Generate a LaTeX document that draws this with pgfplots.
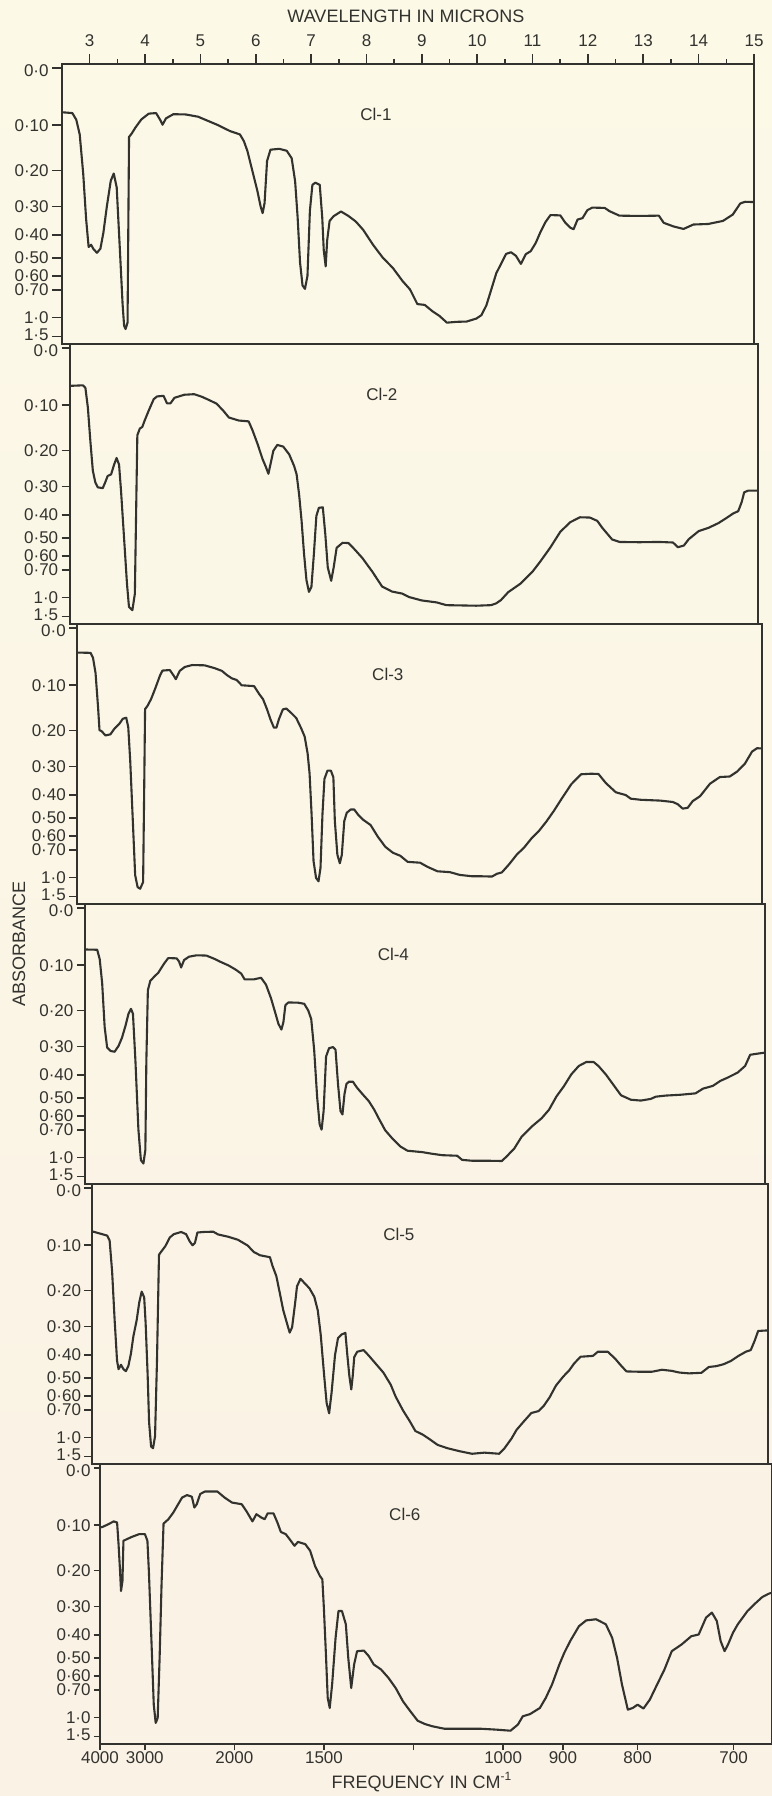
\documentclass[border=0pt]{standalone}
\usepackage{fontspec}
\setmainfont{Liberation Sans}
\usepackage{pgfplots}
\pgfplotsset{compat=1.18}

\definecolor{paper}{RGB}{252,249,231}
\definecolor{paperlow}{RGB}{250,242,229}
\definecolor{ink}{RGB}{50,50,46}

% x = wavelength (micron), y = transmittance; y ticks labelled in absorbance
\pgfplotsset{
  irpanel/.style={
    scale only axis, height=140pt,
    xmin=2.5, xmax=15, ymin=0.005, ymax=1.015,
    axis line style={ink, line width=1pt},
    tick style={ink, line width=0.8pt},
    tick align=outside, major tick length=4pt, minor tick length=2.5pt,
    ytick={0.0316,0.1,0.2,0.251,0.316,0.398,0.501,0.631,0.794,1},
    yticklabels={\raisebox{1.2pt}[6.1pt][0pt]{1·5},1·0,0·70,0·60,0·50,0·40,0·30,0·20,0·10,\raisebox{-1.2pt}[6.1pt][0pt]{0·0}},
    ytick pos=left,
    xtick=\empty,
    /pgf/number format/assume math mode=true,
    ticklabel style={font=\fontsize{8.5}{9}\selectfont, text=ink},
    yticklabel style={inner sep=1.5pt},
    clip=false,
    anchor=north west,
  },
  ir/.style={ink, line width=1.05pt, line join=round, mark=none},
}
\newcommand{\tag}[1]{\node[font=\fontsize{8.5}{9}\selectfont, text=ink] at (axis cs:8.17,0.832) {#1};}

\begin{document}
\begin{tikzpicture}
\path[use as bounding box] (0,0) rectangle (386pt,-898pt);
\shade[top color=paper, bottom color=paperlow] (0,0) rectangle (386pt,-898pt);

% Cl-1
\begin{axis}[irpanel, at={(31pt,-32pt)}, width=346pt,
  xtick={3,...,15}, minor xtick={3.5,4.5,...,14.5},
  xtick pos=right, xticklabel pos=right, major tick length=5pt]
\addplot[ir] coordinates {
(2.5,0.841) (2.687,0.838) (2.758,0.814) (2.820,0.761) (2.883,0.620) (2.936,0.455)
(2.981,0.355) (3.025,0.363) (3.070,0.347) (3.132,0.334) (3.194,0.349) (3.248,0.407)
(3.310,0.501) (3.381,0.594) (3.435,0.620) (3.488,0.570) (3.542,0.359) (3.595,0.147)
(3.622,0.071) (3.648,0.059) (3.684,0.082) (3.711,0.752) (3.755,0.763) (3.827,0.786)
(3.933,0.815) (4.067,0.836) (4.200,0.838) (4.272,0.814) (4.316,0.796) (4.379,0.819)
(4.512,0.834) (4.735,0.833) (4.957,0.825) (5.135,0.810) (5.313,0.795) (5.536,0.773)
(5.714,0.761) (5.785,0.737) (5.848,0.702) (5.937,0.631) (6.026,0.560) (6.088,0.501)
(6.124,0.477) (6.159,0.513) (6.204,0.665) (6.266,0.706) (6.426,0.709) (6.560,0.702)
(6.649,0.675) (6.711,0.592) (6.756,0.463) (6.800,0.299) (6.845,0.216) (6.889,0.204)
(6.934,0.251) (6.978,0.486) (7.023,0.579) (7.076,0.587) (7.156,0.579) (7.201,0.461)
(7.228,0.344) (7.263,0.285) (7.290,0.379) (7.334,0.449) (7.406,0.466) (7.539,0.483)
(7.673,0.467) (7.806,0.447) (7.940,0.417) (8.118,0.363) (8.296,0.316) (8.474,0.280)
(8.652,0.232) (8.786,0.202) (8.919,0.149) (9.053,0.146) (9.186,0.124) (9.320,0.106)
(9.453,0.082) (9.631,0.085) (9.809,0.086) (9.987,0.097) (10.076,0.109) (10.165,0.144)
(10.255,0.202) (10.344,0.260) (10.433,0.295) (10.522,0.330) (10.611,0.336) (10.700,0.323)
(10.789,0.294) (10.878,0.329) (10.967,0.340) (11.056,0.369) (11.145,0.410) (11.234,0.445)
(11.323,0.470) (11.501,0.469) (11.590,0.443) (11.679,0.425) (11.741,0.419) (11.813,0.454)
(11.902,0.459) (11.991,0.488) (12.080,0.497) (12.302,0.496) (12.391,0.484) (12.569,0.468)
(12.925,0.467) (13.281,0.468) (13.370,0.442) (13.548,0.429) (13.727,0.420) (13.905,0.436)
(14.172,0.438) (14.439,0.449) (14.617,0.472) (14.751,0.512) (14.840,0.518) (15.0,0.517)
};
\tag{Cl-1}
\end{axis}

% Cl-2
\begin{axis}[irpanel, at={(34.8pt,-172pt)}, width=344.2pt]
\addplot[ir] coordinates {
(2.5,0.864) (2.742,0.866) (2.787,0.857) (2.832,0.785) (2.877,0.665) (2.922,0.558)
(2.967,0.516) (3.012,0.498) (3.102,0.495) (3.147,0.516) (3.191,0.539) (3.254,0.545)
(3.308,0.580) (3.353,0.604) (3.398,0.580) (3.434,0.485) (3.488,0.318) (3.542,0.150)
(3.578,0.067) (3.640,0.055) (3.685,0.114) (3.712,0.460) (3.730,0.686) (3.775,0.710)
(3.820,0.716) (3.865,0.740) (3.937,0.775) (4.027,0.816) (4.089,0.826) (4.206,0.828)
(4.269,0.801) (4.332,0.801) (4.404,0.821) (4.583,0.832) (4.763,0.834) (4.898,0.825)
(5.032,0.813) (5.167,0.800) (5.284,0.776) (5.392,0.750) (5.571,0.739) (5.751,0.736)
(5.823,0.703) (5.912,0.655) (6.002,0.601) (6.065,0.571) (6.110,0.547) (6.155,0.588)
(6.200,0.630) (6.272,0.651) (6.379,0.645) (6.487,0.617) (6.577,0.575) (6.622,0.545)
(6.667,0.473) (6.712,0.378) (6.757,0.258) (6.801,0.163) (6.846,0.121) (6.891,0.139)
(6.936,0.258) (6.981,0.395) (7.026,0.424) (7.098,0.426) (7.143,0.329) (7.188,0.209)
(7.250,0.161) (7.295,0.209) (7.349,0.280) (7.457,0.298) (7.565,0.297) (7.681,0.273)
(7.816,0.243) (7.996,0.194) (8.175,0.140) (8.355,0.122) (8.535,0.115) (8.669,0.102)
(8.894,0.090) (9.163,0.083) (9.343,0.073) (9.612,0.072) (9.882,0.071) (10.151,0.073)
(10.241,0.079) (10.331,0.091) (10.465,0.120) (10.690,0.151) (10.914,0.196) (11.049,0.231)
(11.229,0.281) (11.408,0.337) (11.588,0.372) (11.767,0.390) (11.947,0.389) (12.082,0.377)
(12.172,0.352) (12.351,0.310) (12.486,0.301) (12.845,0.300) (13.204,0.301) (13.456,0.299)
(13.545,0.282) (13.653,0.288) (13.743,0.311) (13.922,0.340) (14.102,0.352) (14.282,0.369)
(14.416,0.386) (14.551,0.404) (14.641,0.412) (14.704,0.445) (14.749,0.480) (14.820,0.486)
(15.0,0.486)
};
\tag{Cl-2}
\end{axis}

% Cl-3
\begin{axis}[irpanel, at={(38.6pt,-312pt)}, width=342.4pt]
\addplot[ir] coordinates {
(2.5,0.912) (2.744,0.911) (2.789,0.893) (2.835,0.838) (2.880,0.717) (2.907,0.632)
(2.943,0.629) (3.016,0.613) (3.106,0.617) (3.178,0.637) (3.269,0.655) (3.332,0.673)
(3.395,0.677) (3.432,0.643) (3.468,0.521) (3.513,0.315) (3.558,0.109) (3.603,0.066)
(3.649,0.060) (3.703,0.084) (3.721,0.387) (3.739,0.708) (3.784,0.720) (3.848,0.744)
(3.920,0.780) (4.011,0.829) (4.056,0.847) (4.191,0.849) (4.264,0.828) (4.300,0.816)
(4.372,0.846) (4.463,0.860) (4.598,0.867) (4.825,0.866) (5.005,0.856) (5.141,0.846)
(5.232,0.831) (5.322,0.819) (5.412,0.813) (5.503,0.794) (5.729,0.791) (5.820,0.763)
(5.892,0.744) (5.964,0.708) (6.028,0.671) (6.091,0.641) (6.136,0.641) (6.181,0.671)
(6.254,0.707) (6.317,0.710) (6.407,0.694) (6.498,0.676) (6.588,0.639) (6.652,0.609)
(6.706,0.548) (6.742,0.475) (6.778,0.330) (6.814,0.160) (6.860,0.099) (6.905,0.087)
(6.941,0.135) (6.977,0.329) (7.013,0.456) (7.068,0.486) (7.131,0.486) (7.176,0.462)
(7.203,0.304) (7.249,0.183) (7.294,0.152) (7.330,0.182) (7.375,0.304) (7.420,0.334)
(7.493,0.346) (7.556,0.346) (7.628,0.327) (7.719,0.309) (7.855,0.290) (7.990,0.247)
(8.126,0.211) (8.262,0.190) (8.397,0.179) (8.533,0.157) (8.759,0.154) (8.895,0.139)
(9.076,0.123) (9.302,0.120) (9.483,0.110) (9.709,0.105) (9.890,0.105) (10.071,0.104)
(10.161,0.114) (10.252,0.119) (10.387,0.149) (10.523,0.183) (10.659,0.209) (10.794,0.242)
(10.930,0.269) (11.066,0.303) (11.201,0.341) (11.337,0.383) (11.518,0.437) (11.699,0.473)
(11.880,0.475) (12.015,0.474) (12.151,0.441) (12.332,0.408) (12.513,0.398) (12.603,0.385)
(12.784,0.381) (13.146,0.378) (13.372,0.373) (13.462,0.365) (13.553,0.349) (13.643,0.352)
(13.734,0.376) (13.870,0.394) (14.051,0.439) (14.231,0.463) (14.412,0.465) (14.548,0.483)
(14.684,0.510) (14.819,0.555) (14.910,0.567) (15.0,0.566)
};
\tag{Cl-3}
\end{axis}

% Cl-4
\begin{axis}[irpanel, at={(42.4pt,-452pt)}, width=340.1pt]
\addplot[ir] coordinates {
(2.5,0.851) (2.728,0.850) (2.774,0.816) (2.819,0.730) (2.865,0.571) (2.911,0.497)
(2.974,0.485) (3.047,0.482) (3.120,0.503) (3.184,0.533) (3.248,0.576) (3.303,0.619)
(3.349,0.637) (3.385,0.619) (3.431,0.447) (3.485,0.202) (3.531,0.091) (3.577,0.079)
(3.613,0.128) (3.631,0.447) (3.659,0.704) (3.704,0.738) (3.777,0.753) (3.850,0.767)
(3.960,0.801) (4.033,0.820) (4.188,0.819) (4.234,0.807) (4.270,0.786) (4.325,0.813)
(4.416,0.825) (4.553,0.830) (4.735,0.829) (4.872,0.818) (5.009,0.805) (5.146,0.793)
(5.283,0.777) (5.374,0.764) (5.438,0.743) (5.602,0.743) (5.739,0.749) (5.830,0.724)
(5.922,0.675) (5.995,0.626) (6.058,0.583) (6.113,0.562) (6.150,0.589) (6.186,0.650)
(6.241,0.660) (6.423,0.659) (6.533,0.655) (6.606,0.631) (6.661,0.600) (6.715,0.489)
(6.770,0.318) (6.816,0.220) (6.852,0.201) (6.889,0.269) (6.934,0.465) (6.989,0.495)
(7.062,0.499) (7.108,0.489) (7.153,0.366) (7.199,0.268) (7.235,0.256) (7.272,0.329)
(7.308,0.366) (7.354,0.374) (7.427,0.374) (7.500,0.353) (7.609,0.328) (7.719,0.304)
(7.819,0.273) (7.901,0.242) (8.020,0.199) (8.157,0.168) (8.294,0.141) (8.431,0.125)
(8.704,0.120) (8.887,0.114) (9.069,0.109) (9.343,0.107) (9.434,0.092) (9.617,0.089)
(9.890,0.089) (10.164,0.088) (10.255,0.105) (10.392,0.133) (10.529,0.176) (10.712,0.212)
(10.894,0.242) (11.031,0.273) (11.168,0.321) (11.305,0.358) (11.442,0.401) (11.579,0.431)
(11.715,0.445) (11.852,0.445) (11.943,0.430) (12.080,0.399) (12.217,0.362) (12.354,0.325)
(12.536,0.309) (12.719,0.306) (12.901,0.312) (12.993,0.320) (13.175,0.324) (13.449,0.327)
(13.723,0.332) (13.860,0.349) (14.042,0.359) (14.179,0.377) (14.316,0.389) (14.498,0.407)
(14.635,0.431) (14.727,0.471) (14.818,0.474) (15.0,0.479)
};
\tag{Cl-4}
\end{axis}

% Cl-5
\begin{axis}[irpanel, at={(46.2pt,-592pt)}, width=337.8pt]
\addplot[ir] coordinates {
(2.5,0.844) (2.774,0.829) (2.819,0.811) (2.865,0.699) (2.911,0.526) (2.956,0.378)
(2.984,0.347) (3.029,0.363) (3.075,0.347) (3.120,0.340) (3.166,0.359) (3.212,0.402)
(3.257,0.464) (3.321,0.526) (3.367,0.588) (3.412,0.627) (3.458,0.606) (3.485,0.513)
(3.522,0.328) (3.549,0.155) (3.586,0.068) (3.622,0.062) (3.659,0.105) (3.695,0.377)
(3.732,0.760) (3.777,0.772) (3.850,0.791) (3.932,0.822) (4.005,0.834) (4.142,0.842)
(4.234,0.834) (4.297,0.809) (4.352,0.794) (4.398,0.803) (4.443,0.840) (4.553,0.842)
(4.735,0.843) (4.827,0.833) (5.009,0.825) (5.192,0.814) (5.374,0.793) (5.484,0.770)
(5.602,0.758) (5.785,0.751) (5.830,0.721) (5.903,0.683) (5.967,0.622) (6.031,0.560)
(6.104,0.510) (6.150,0.479) (6.195,0.498) (6.250,0.584) (6.286,0.646) (6.350,0.673)
(6.423,0.658) (6.515,0.639) (6.606,0.608) (6.670,0.559) (6.724,0.472) (6.788,0.324)
(6.834,0.225) (6.880,0.188) (6.925,0.262) (6.989,0.398) (7.044,0.459) (7.108,0.472)
(7.181,0.478) (7.217,0.398) (7.254,0.323) (7.290,0.274) (7.317,0.323) (7.345,0.391)
(7.400,0.410) (7.518,0.416) (7.609,0.397) (7.746,0.366) (7.883,0.335) (8.020,0.291)
(8.111,0.248) (8.248,0.198) (8.367,0.161) (8.476,0.124) (8.613,0.111) (8.750,0.093)
(8.887,0.074) (9.069,0.062) (9.297,0.051) (9.525,0.042) (9.754,0.046) (10.027,0.042)
(10.118,0.060) (10.255,0.097) (10.347,0.128) (10.484,0.159) (10.621,0.189) (10.757,0.196)
(10.848,0.214) (10.958,0.245) (11.077,0.288) (11.214,0.321) (11.323,0.343) (11.414,0.368)
(11.533,0.392) (11.761,0.395) (11.852,0.410) (12.035,0.410) (12.172,0.385) (12.263,0.364)
(12.381,0.339) (12.582,0.338) (12.856,0.338) (13.038,0.345) (13.221,0.341) (13.358,0.335)
(13.540,0.332) (13.768,0.334) (13.905,0.355) (14.042,0.358) (14.179,0.365) (14.316,0.377)
(14.453,0.395) (14.590,0.410) (14.681,0.416) (14.754,0.450) (14.818,0.485) (15.0,0.487)
};
\tag{Cl-5}
\end{axis}

% Cl-6
\begin{axis}[irpanel, at={(50pt,-732pt)}, width=336pt,
  xtick={2.5,3.3333,5,6.6667,8.3333,10,11.1111,12.5,14.2857},
  xticklabels={4000,3000,2000,1500,{},1000,900,800,700},
  xtick pos=left, xticklabel pos=left, major tick length=3pt,
  xticklabel style={inner sep=0.5pt}]
\addplot[ir] coordinates {
(2.5,0.786) (2.545,0.788) (2.636,0.796) (2.755,0.808) (2.818,0.804) (2.845,0.726)
(2.873,0.629) (2.891,0.557) (2.918,0.593) (2.936,0.738) (3.000,0.744) (3.091,0.752)
(3.227,0.762) (3.336,0.762) (3.382,0.738) (3.409,0.629) (3.455,0.388) (3.500,0.147)
(3.536,0.081) (3.573,0.099) (3.609,0.316) (3.645,0.581) (3.682,0.800) (3.773,0.816)
(3.864,0.840) (3.936,0.864) (4.027,0.894) (4.118,0.903) (4.209,0.897) (4.255,0.858)
(4.300,0.870) (4.364,0.907) (4.455,0.916) (4.682,0.916) (4.818,0.894) (4.955,0.876)
(5.136,0.870) (5.227,0.844) (5.336,0.808) (5.409,0.834) (5.500,0.822) (5.564,0.816)
(5.618,0.837) (5.727,0.837) (5.800,0.804) (5.864,0.770) (5.955,0.762) (6.027,0.744)
(6.118,0.720) (6.182,0.734) (6.318,0.726) (6.409,0.702) (6.500,0.647) (6.591,0.611)
(6.636,0.599) (6.664,0.497) (6.700,0.340) (6.736,0.171) (6.773,0.135) (6.818,0.220)
(6.882,0.388) (6.936,0.485) (7.000,0.485) (7.073,0.437) (7.118,0.316) (7.173,0.207)
(7.227,0.292) (7.282,0.340) (7.409,0.342) (7.500,0.322) (7.591,0.292) (7.727,0.274)
(7.864,0.244) (8.000,0.207) (8.136,0.159) (8.273,0.123) (8.409,0.089) (8.545,0.077)
(8.682,0.069) (8.909,0.060) (9.227,0.060) (9.591,0.060) (9.864,0.057) (10.136,0.053)
(10.273,0.075) (10.364,0.105) (10.500,0.113) (10.682,0.135) (10.791,0.171) (10.909,0.220)
(11.045,0.292) (11.136,0.334) (11.245,0.376) (11.409,0.430) (11.545,0.451) (11.727,0.455)
(11.909,0.437) (12.027,0.388) (12.118,0.316) (12.209,0.220) (12.318,0.129) (12.409,0.135)
(12.500,0.147) (12.609,0.133) (12.727,0.165) (12.864,0.220) (13.000,0.274) (13.136,0.340)
(13.318,0.364) (13.500,0.394) (13.636,0.400) (13.773,0.461) (13.882,0.479) (13.973,0.449)
(14.045,0.376) (14.118,0.340) (14.182,0.364) (14.273,0.406) (14.364,0.437) (14.455,0.461)
(14.545,0.485) (14.682,0.511) (14.818,0.535) (14.936,0.547) (15.0,0.551)
};
\tag{Cl-6}
\end{axis}

\node[font=\fontsize{9}{10}\selectfont, text=ink] at (203pt,-8pt) {WAVELENGTH IN MICRONS};
\node[font=\fontsize{9}{10}\selectfont, text=ink] at (211pt,-891pt) {FREQUENCY IN CM\textsuperscript{-1}};
\node[font=\fontsize{9}{10}\selectfont, text=ink, rotate=90] at (9.5pt,-472pt) {ABSORBANCE};
\end{tikzpicture}
\end{document}
